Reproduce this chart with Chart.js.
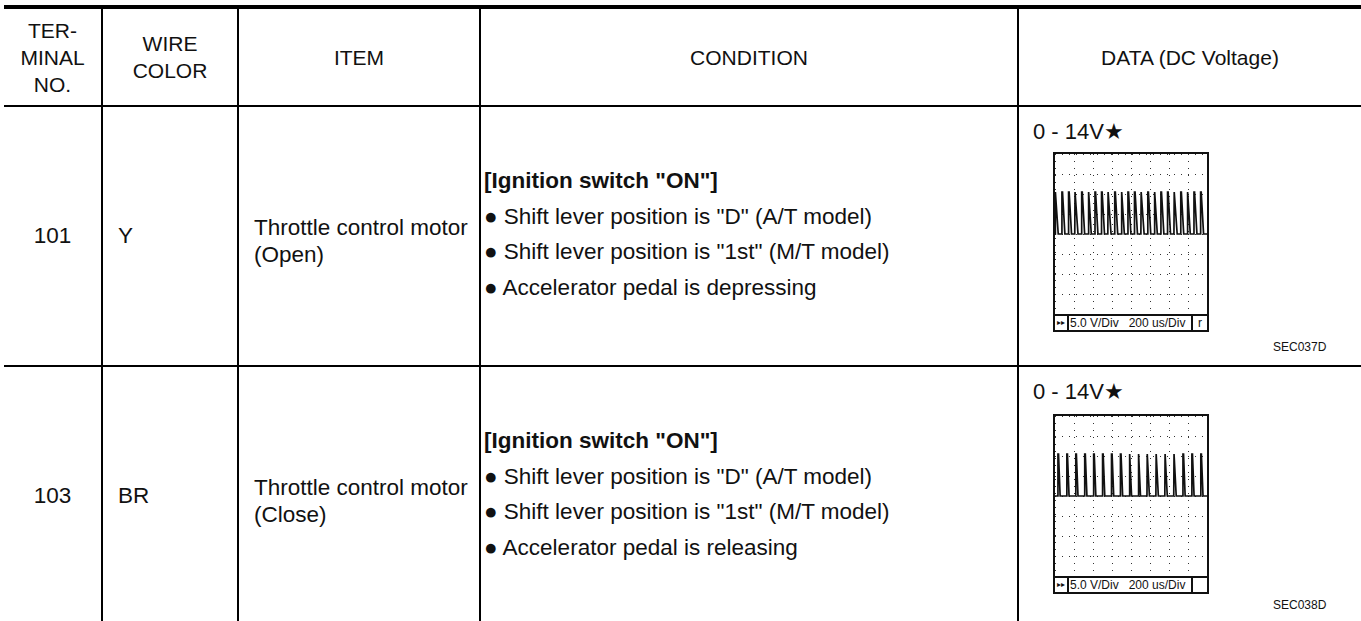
<!DOCTYPE html>
<html>
<head>
<meta charset="utf-8">
<script src="https://cdn.jsdelivr.net/npm/chart.js@4.4.1/dist/chart.umd.min.js"></script>
<style>
body{margin:0;background:#fff;font-family:"Liberation Sans",Arial,sans-serif;color:#111;}
#page{position:relative;width:1361px;height:621px;overflow:hidden;}
.ln{position:absolute;background:#000;}
.txt{position:absolute;font-size:22.5px;line-height:27px;white-space:nowrap;}
.hd{position:absolute;font-size:21px;line-height:27px;text-align:center;display:flex;align-items:center;justify-content:center;}
.scope{position:absolute;width:152px;border:2px solid #111;background:#fff;}
.scope canvas{display:block;}
.bar{height:14px;border-top:2px solid #111;font-size:12px;line-height:14px;position:relative;white-space:nowrap;}
.bar .ff{position:absolute;left:0;top:0;width:12px;height:14px;border-right:2px solid #111;font-size:8px;text-align:center;}
.bar .lb{position:absolute;left:15px;top:0;}
.bar .rb{position:absolute;right:0;top:0;width:14px;height:14px;border-left:2px solid #111;text-align:center;}
.volt{position:absolute;font-size:22px;line-height:26px;}
.code{position:absolute;font-size:12px;}
</style>
</head>
<body>
<div id="page">
  <!-- table lines -->
  <div class="ln" style="left:4px;top:5px;width:1357px;height:4px"></div>
  <div class="ln" style="left:4px;top:105px;width:1357px;height:2px"></div>
  <div class="ln" style="left:4px;top:365px;width:1357px;height:2px"></div>
  <div class="ln" style="left:101px;top:9px;width:2px;height:612px"></div>
  <div class="ln" style="left:237px;top:9px;width:2px;height:612px"></div>
  <div class="ln" style="left:479px;top:9px;width:2px;height:612px"></div>
  <div class="ln" style="left:1017px;top:9px;width:2px;height:612px"></div>

  <!-- header -->
  <div class="hd" style="left:4px;top:9px;width:97px;height:96px">TER-<br>MINAL<br>NO.</div>
  <div class="hd" style="left:103px;top:9px;width:134px;height:96px">WIRE<br>COLOR</div>
  <div class="hd" style="left:239px;top:9px;width:240px;height:96px">ITEM</div>
  <div class="hd" style="left:481px;top:9px;width:536px;height:96px">CONDITION</div>
  <div class="hd" style="left:1019px;top:9px;width:342px;height:96px">DATA (DC Voltage)</div>

  <!-- row 1 -->
  <div class="txt" style="left:4px;top:222px;width:97px;text-align:center">101</div>
  <div class="txt" style="left:118px;top:222px">Y</div>
  <div class="txt" style="left:254px;top:214px">Throttle control motor<br>(Open)</div>
  <div class="txt" style="left:484px;top:163px;line-height:35.5px"><b>[Ignition switch "ON"]</b><br>● Shift lever position is "D" (A/T model)<br>● Shift lever position is "1st" (M/T model)<br>● Accelerator pedal is depressing</div>
  <div class="volt" style="left:1033px;top:119px">0 - 14V★</div>
  <div class="scope" style="left:1053px;top:152px">
    <canvas id="scopeOpen" width="152" height="160"></canvas>
    <div class="bar"><span class="ff">▸▸</span><span class="lb">5.0 V/Div &nbsp;&nbsp;200 us/Div</span><span class="rb">r</span></div>
  </div>
  <div class="code" style="left:1273px;top:340px">SEC037D</div>

  <!-- row 2 -->
  <div class="txt" style="left:4px;top:482px;width:97px;text-align:center">103</div>
  <div class="txt" style="left:118px;top:482px">BR</div>
  <div class="txt" style="left:254px;top:474px">Throttle control motor<br>(Close)</div>
  <div class="txt" style="left:484px;top:423px;line-height:35.5px"><b>[Ignition switch "ON"]</b><br>● Shift lever position is "D" (A/T model)<br>● Shift lever position is "1st" (M/T model)<br>● Accelerator pedal is releasing</div>
  <div class="volt" style="left:1033px;top:379px">0 - 14V★</div>
  <div class="scope" style="left:1053px;top:414px">
    <canvas id="scopeClose" width="152" height="160"></canvas>
    <div class="bar"><span class="ff">▸▸</span><span class="lb">5.0 V/Div &nbsp;&nbsp;200 us/Div</span><span class="rb"></span></div>
  </div>
  <div class="code" style="left:1273px;top:598px">SEC038D</div>
</div>

<script>
// scope screen: 8 div x 200 us, 8 div x 5 V
var timeMax = 1600;
var voltMin = -20;
var voltMax = 20;

// terminal 101 (open) - pulse edges in us
var openRise = [0, 70, 140, 208, 278, 348, 418, 487, 556, 626, 696, 765, 834, 904, 974, 1043, 1112, 1182, 1252, 1321, 1390, 1460, 1530];
var openFall = [34, 104, 174, 242, 312, 382, 452, 521, 590, 660, 730, 799, 868, 938, 1008, 1077, 1146, 1216, 1286, 1355, 1424, 1494, 1564];
var openHigh = 10.5;
var openLow = 0;

// terminal 103 (close)
var closeRise = [28, 122, 216, 310, 404, 498, 592, 686, 780, 874, 968, 1062, 1156, 1250, 1344, 1438, 1532];
var closeFall = [54, 148, 242, 336, 430, 524, 618, 712, 806, 900, 994, 1088, 1182, 1276, 1370, 1464, 1558];
var closeHigh = 10.5;
var closeLow = 0;

function tracePoints(rise, fall, high, low){
	var pts = [{x:0, y:low}];
	for (var i = 0; i < rise.length; i++) {
		pts.push({x:rise[i], y:low});
		pts.push({x:rise[i] + 3, y:high});
		pts.push({x:rise[i] + 9, y:high});
		pts.push({x:fall[i], y:low});
	}
	pts.push({x:timeMax, y:low});
	return pts;
}

function drawScope(ctx, points){
	return new Chart(ctx, {
		type: 'line',
		data: {
			datasets: [{
				data: points,
				borderColor: '#111',
				borderWidth: 1.7,
				pointRadius: 0,
				tension: 0,
				fill: false
			}]
		},
		options: {
			responsive: false,
			animation: false,
			events: [],
			layout: {padding: 0},
			plugins: {legend: {display: false}, tooltip: {enabled: false}},
			scales: {
				x: {
					type: 'linear', min: 0, max: timeMax,
					ticks: {display: false, stepSize: 200},
					grid: {color: '#333', lineWidth: 1, drawTicks: false},
					border: {display: false, dash: [1, 6]}
				},
				y: {
					min: voltMin, max: voltMax,
					ticks: {display: false, stepSize: 5},
					grid: {color: '#333', lineWidth: 1, drawTicks: false},
					border: {display: false, dash: [1, 6]}
				}
			}
		}
	});
}

drawScope(document.getElementById('scopeOpen'), tracePoints(openRise, openFall, openHigh, openLow));
drawScope(document.getElementById('scopeClose'), tracePoints(closeRise, closeFall, closeHigh, closeLow));
</script>
</body>
</html>
